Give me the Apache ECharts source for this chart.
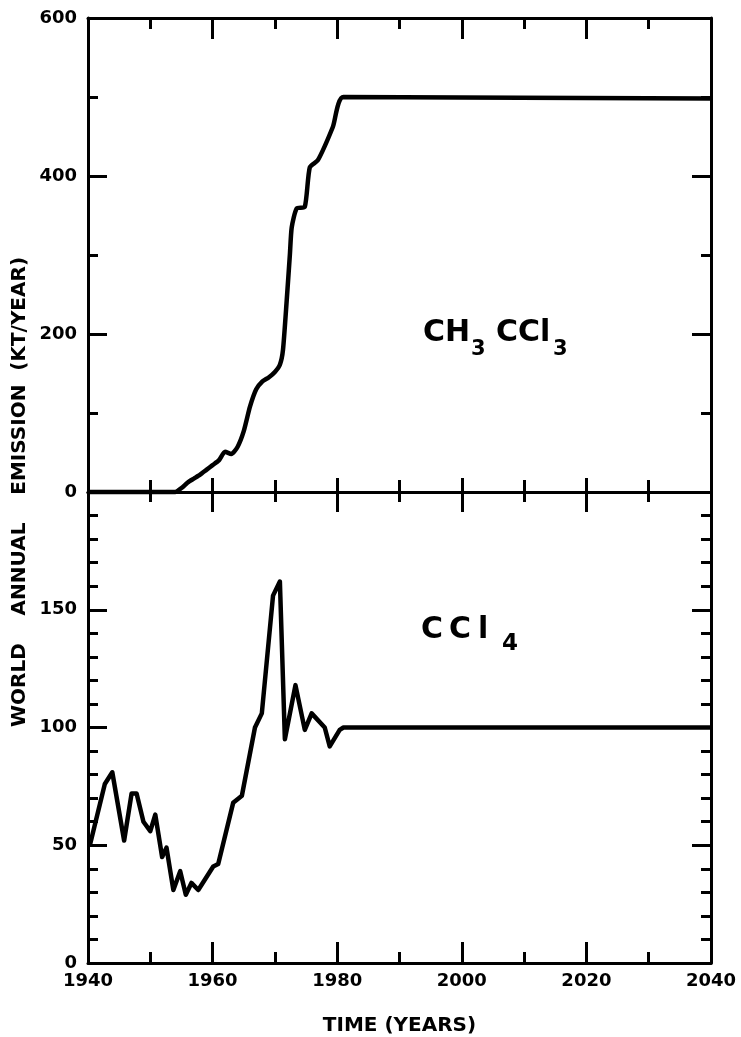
<!DOCTYPE html>
<html>
<head>
<meta charset="utf-8">
<script src="https://cdn.jsdelivr.net/npm/echarts@6/dist/echarts.min.js"></script>
<style>
  html, body { margin: 0; padding: 0; background: #fff; }
  #chart { width: 741px; height: 1037px; }
</style>
</head>
<body>
<div id="chart"></div>
<script>
// CH3CCl3 排放 (上图)
var ch3Years = [1940, 1954, 1955, 1956, 1957, 1958, 1959, 1960, 1961, 1962, 1963, 1964, 1965, 1966, 1967, 1968, 1969, 1970, 1970.8, 1971.3, 1971.9, 1972.4, 1972.7, 1973.5, 1974.8, 1975.6, 1976.9, 1979.3, 1981, 2040];
var ch3Values = [0, 0, 5, 12, 17, 22, 28, 34, 40, 51, 48, 57, 77, 108, 130, 140, 145, 152, 161, 180, 243, 300, 335, 359, 361, 411, 420, 462, 500, 498];

// CCl4 排放 (下图)
var cclYears = [1940.3, 1942.7, 1943.9, 1945.8, 1947, 1947.8, 1948.9, 1950, 1950.8, 1951.9, 1952.6, 1953.7, 1954.8, 1955.7, 1956.6, 1957.7, 1960.1, 1960.9, 1963.3, 1964.7, 1966.8, 1967.9, 1969.7, 1970.8, 1971.6, 1973.3, 1974.8, 1975.9, 1978, 1978.8, 1980.4, 1981, 2040];
var cclValues = [50, 76, 81, 52, 72, 72, 60, 56, 63, 45, 49, 31, 39, 29, 34, 31, 41, 42, 68, 71, 100, 106, 156, 162, 95, 118, 99, 106, 100, 92, 99, 100, 100];

var myChart = echarts.init(document.getElementById('chart'));

var font = '"DejaVu Sans", sans-serif';
var lineW = 3;

// 通用的 x 轴
function xAxisOf(grid, pos, major, minor, showLabel) {
  return {
    type: 'value',
    gridIndex: grid,
    position: pos,
    min: 1940,
    max: 2040,
    interval: 20,
    axisLine: { onZero: false, lineStyle: { color: '#000', width: lineW } },
    axisTick: { inside: true, length: major, lineStyle: { color: '#000', width: lineW } },
    minorTick: { show: true, splitNumber: 2, length: minor, lineStyle: { color: '#000', width: lineW } },
    splitLine: { show: false },
    axisLabel: {
      show: showLabel,
      color: '#000',
      fontFamily: font,
      fontWeight: 'bold',
      fontSize: 18,
      margin: 9,
      formatter: function (v) { return String(v); }
    }
  };
}

// 通用的 y 轴
function yAxisOf(grid, pos, max, interval, split, showLabel) {
  return {
    type: 'value',
    gridIndex: grid,
    position: pos,
    min: 0,
    max: max,
    interval: interval,
    axisLine: { show: true, onZero: false, lineStyle: { color: '#000', width: lineW } },
    axisTick: { show: true, inside: true, length: 19, lineStyle: { color: '#000', width: lineW } },
    minorTick: { show: true, splitNumber: split, length: 10, lineStyle: { color: '#000', width: lineW } },
    splitLine: { show: false },
    axisLabel: {
      show: showLabel,
      color: '#000',
      fontFamily: font,
      fontWeight: 'bold',
      fontSize: 18,
      margin: 11,
      showMaxLabel: max !== 200
    }
  };
}

var xTopBottom = xAxisOf(0, 'bottom', 14, 12, false);
var xTop = xAxisOf(0, 'top', 21, 11, false);
var xBotTop = xAxisOf(1, 'top', 20, 10, false);
var xBottom = xAxisOf(1, 'bottom', 21, 11, true);
xBottom.name = 'TIME (YEARS)';
xBottom.nameLocation = 'middle';
xBottom.nameGap = 53;
xBottom.nameTextStyle = { color: '#000', fontFamily: font, fontWeight: 'bold', fontSize: 20 };

function sub(x, y, text, size) {
  return {
    type: 'text', x: x, y: y,
    style: { text: text, fill: '#000', font: 'bold ' + size + 'px ' + font, textVerticalAlign: 'middle' }
  };
}

var option = {
  animation: false,
  backgroundColor: '#fff',
  grid: [
    { left: 88, right: 30, top: 18, height: 474 },
    { left: 88, right: 30, top: 492, height: 478 }
  ],
  xAxis: [xTopBottom, xTop, xBotTop, xBottom],
  yAxis: [
    yAxisOf(0, 'left', 600, 200, 2, true),
    yAxisOf(0, 'right', 600, 200, 2, false),
    yAxisOf(1, 'left', 200, 50, 5, true),
    yAxisOf(1, 'right', 200, 50, 5, false)
  ],
  graphic: [
    {
      type: 'text',
      x: 20,
      y: 492,
      rotation: Math.PI / 2,
      style: {
        text: 'WORLD    ANNUAL    EMISSION  (KT/YEAR)',
        fill: '#000',
        font: 'bold 20px ' + font,
        textAlign: 'center',
        textVerticalAlign: 'middle'
      }
    },
    // CH3CCl3 标注
    sub(423, 333, 'CH', 30),
    sub(471, 350, '3', 21),
    sub(496, 333, 'CCl', 30),
    sub(553, 350, '3', 21),
    // CCl4 标注
    sub(421, 630, 'C', 30),
    sub(449, 630, 'C', 30),
    sub(478, 630, 'l', 30),
    sub(502, 644, '4', 23)
  ],
  series: [
    {
      name: 'CH3CCl3',
      type: 'line',
      xAxisIndex: 0,
      yAxisIndex: 0,
      data: ch3Years.map(function (y, i) { return [y, ch3Values[i]]; }),
      symbol: 'none',
      smooth: 0.2,
      clip: false,
      lineStyle: { color: '#000', width: 4.5 }
    },
    {
      name: 'CCl4',
      type: 'line',
      xAxisIndex: 3,
      yAxisIndex: 2,
      data: cclYears.map(function (y, i) { return [y, cclValues[i]]; }),
      symbol: 'none',
      clip: false,
      lineStyle: { color: '#000', width: 4.5, join: 'round' }
    }
  ]
};

myChart.setOption(option);
window.addEventListener('resize', function () {
  myChart.resize();
});
</script>
</body>
</html>
